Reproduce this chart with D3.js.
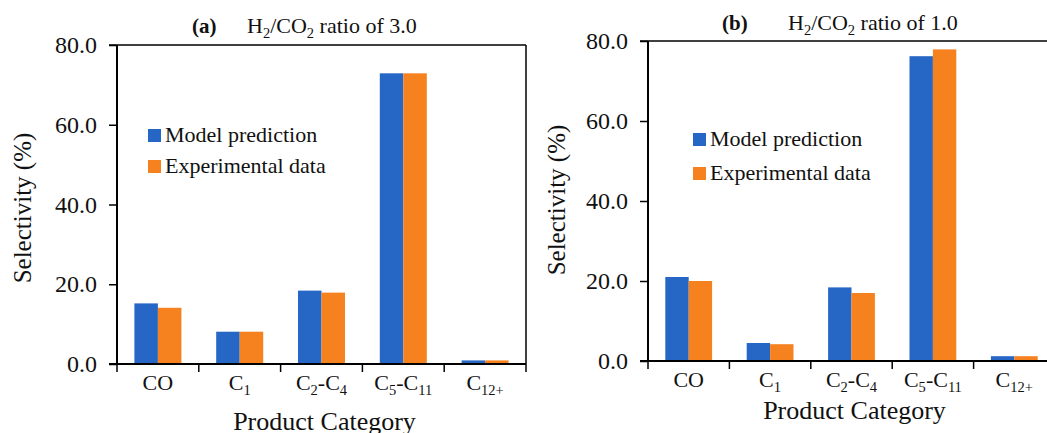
<!DOCTYPE html>
<html>
<head>
<meta charset="utf-8">
<script src="https://cdn.jsdelivr.net/npm/d3@7"></script>
<style>
  body { margin: 0; background: #fff; }
  svg text, svg tspan { font-family: "Liberation Serif", "Times New Roman", Times, serif; }
</style>
</head>
<body>
<div id="chart"></div>
<script>
// category labels split into [text, subscript] parts
const categories = ['CO', 'C1', 'C2-C4', 'C5-C11', 'C12+']
const catParts = [
  [['CO', '']],
  [['C', '1']],
  [['C', '2'], ['-C', '4']],
  [['C', '5'], ['-C', '11']],
  [['C', '12+']]
]
const series = ['Model prediction', 'Experimental data']
const colors = ['#2666c4', '#f5811f']
const yTicks = [0, 20, 40, 60, 80]

// (a) H2/CO2 = 3.0
const modelA = [15.2, 8.1, 18.4, 72.9, 0.9]
const expA = [14.1, 8.1, 17.9, 72.9, 0.9]
// (b) H2/CO2 = 1.0
const modelB = [21.0, 4.5, 18.4, 76.2, 1.2]
const expB = [20.0, 4.2, 17.0, 77.9, 1.2]

const W = 1047, H = 433
const svg = d3.select('#chart').append('svg').attr('width', W).attr('height', H)

// writes text with subscripts; the shift is undone on the next main tspan
function subText(sel, parts, mainSize) {
  let shift = mainSize * 0.22
  let lowered = false
  parts.forEach(function (p) {
    sel.append('tspan').attr('dy', lowered ? -shift : 0).text(p[0])
    lowered = false
    if (p[1]) {
      sel.append('tspan').attr('font-size', mainSize * 0.66).attr('dy', shift).text(p[1])
      lowered = true
    }
  })
}

function drawPanel(cfg) {
  let g = svg.append('g')
  let x = d3.scaleBand().domain(categories).range([cfg.left, cfg.right])
  let xs = d3.scaleBand().domain(series).range([0, x.bandwidth()]).paddingOuter(0.74)
  let y = d3.scaleLinear().domain([0, 80]).range([cfg.bottom, cfg.top])

  let rows = categories.map(function (c, i) { return {cat: c, vals: [cfg.model[i], cfg.exp[i]]} })

  // bars
  g.selectAll('g.cat').data(rows).join('g')
    .attr('transform', function (d) { return 'translate(' + x(d.cat) + ',0)' })
    .selectAll('rect').data(function (d) { return d.vals.map(function (v, j) { return {s: series[j], v: v, j: j} }) })
    .join('rect')
    .attr('x', function (d) { return xs(d.s) })
    .attr('width', xs.bandwidth())
    .attr('y', function (d) { return y(d.v) })
    .attr('height', function (d) { return y(0) - y(d.v) })
    .attr('fill', function (d) { return colors[d.j] })

  // y axis
  let yAxis = d3.axisLeft(y).tickValues(yTicks).tickFormat(d3.format('.1f')).tickSize(8).tickPadding(12)
  let ya = g.append('g').attr('transform', 'translate(' + cfg.left + ',0)').call(yAxis)
  ya.attr('font-family', null)
  ya.select('.domain').attr('stroke-width', 2).attr('d', 'M0,' + cfg.top + 'V' + cfg.bottom)
  ya.selectAll('.tick line').attr('stroke-width', 1.5)
  ya.selectAll('.tick text').attr('font-size', 24).attr('fill', '#111')

  // top and right border
  g.append('line').attr('x1', cfg.left - 8).attr('x2', cfg.right).attr('y1', cfg.top).attr('y2', cfg.top)
    .attr('stroke', '#000').attr('stroke-width', 1.5)
  g.append('line').attr('x1', cfg.right).attr('x2', cfg.right).attr('y1', cfg.top).attr('y2', cfg.bottom)
    .attr('stroke', '#000').attr('stroke-width', 1.5)

  // x axis at 0, ticks on category boundaries
  g.append('line').attr('x1', cfg.left - 8).attr('x2', cfg.right).attr('y1', y(0)).attr('y2', y(0))
    .attr('stroke', '#000').attr('stroke-width', 2)
  let bounds = categories.map(function (c) { return x(c) }).concat([cfg.right])
  g.selectAll('line.xt').data(bounds).join('line').attr('class', 'xt')
    .attr('x1', function (d) { return d }).attr('x2', function (d) { return d })
    .attr('y1', y(0)).attr('y2', y(0) + 8)
    .attr('stroke', '#000').attr('stroke-width', 1.5)

  categories.forEach(function (c, i) {
    let t = g.append('text').attr('x', x(c) + x.bandwidth() / 2).attr('y', y(0) + 26)
      .attr('text-anchor', 'middle').attr('font-size', 22).attr('fill', '#111')
    subText(t, catParts[i], 22)
  })

  // axis titles
  g.append('text').attr('transform', 'translate(' + cfg.yTitleX + ',' + cfg.yTitleY + ') rotate(-90)')
    .attr('text-anchor', 'middle').attr('font-size', 25).attr('fill', '#111').text('Selectivity (%)')
  g.append('text').attr('x', (cfg.left + cfg.right) / 2 + 3).attr('y', cfg.xTitleY)
    .attr('text-anchor', 'middle').attr('font-size', 26).attr('fill', '#111').text('Product Category')

  // panel title
  g.append('text').attr('x', cfg.tagX).attr('y', cfg.titleY).attr('font-size', 21).attr('font-weight', 'bold')
    .attr('fill', '#111').text(cfg.tag)
  let tt = g.append('text').attr('x', cfg.titleX).attr('y', cfg.titleY).attr('font-size', 22).attr('fill', '#111')
  subText(tt, [['H', '2'], ['/CO', '2'], [' ratio of ' + cfg.ratio, '']], 22)

  // legend
  series.forEach(function (s, j) {
    let by = cfg.legY + j * cfg.legGap
    g.append('rect').attr('x', cfg.legX).attr('y', by - 13).attr('width', 13).attr('height', 13).attr('fill', colors[j])
    g.append('text').attr('x', cfg.legX + 17).attr('y', by).attr('font-size', 22).attr('fill', '#111').text(s)
  })
}

drawPanel({
  left: 117, right: 526, top: 45, bottom: 364,
  model: modelA, exp: expA,
  yTitleX: 31, yTitleY: 208, xTitleY: 430,
  tag: '(a)', tagX: 192, titleX: 247, titleY: 33, ratio: '3.0',
  legX: 148, legY: 142, legGap: 31
})

drawPanel({
  left: 648, right: 1055, top: 41, bottom: 361,
  model: modelB, exp: expB,
  yTitleX: 565, yTitleY: 200, xTitleY: 419,
  tag: '(b)', tagX: 722, titleX: 788, titleY: 30, ratio: '1.0',
  legX: 693, legY: 146, legGap: 34
})
</script>
</body>
</html>
